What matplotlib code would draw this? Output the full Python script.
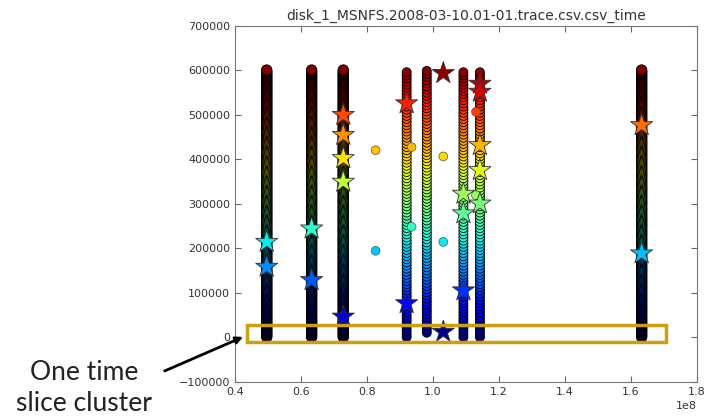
# import packages
import numpy as np
import matplotlib.pyplot as plt
from matplotlib.patches import Rectangle

# Data (x in units of 1e8, y in request units)
# vertical columns of points: x position, lowest y, highest y, spacing of points
col_x = [0.496, 0.632, 0.728, 0.920, 0.981, 1.092, 1.142, 1.632]
col_lo = [0, 0, 0, 0, 10000, 0, 0, 0]
col_hi = [600000, 600000, 600000, 600000, 600000, 600000, 600000, 600000]
col_step = [2500, 2500, 2500, 7000, 7000, 7000, 7000, 2500]

# cluster centres (stars)
star_x = [0.496, 0.496,
          0.632, 0.632,
          0.728, 0.728, 0.728, 0.728, 0.728,
          0.920, 0.920,
          1.031, 1.031,
          1.092, 1.092, 1.092,
          1.142, 1.142, 1.142, 1.142, 1.142,
          1.632, 1.632]
star_y = [214000, 158000,
          244000, 128000,
          499000, 454000, 402000, 349000, 46000,
          525000, 76000,
          593000, 12000,
          322000, 278000, 105000,
          569000, 551000, 431000, 375000, 300000,
          476000, 188000]

# single loose points
pt_x = [0.826, 0.826, 1.031, 1.031, 0.935, 0.935, 1.130, 1.130]
pt_y = [420000, 194000, 406000, 214000, 427000, 248000, 506000, 319000]

title = 'disk_1_MSNFS.2008-03-10.01-01.trace.csv.csv_time'

# Visualization with matplotlib
fig = plt.figure(figsize=(7.17, 4.19), dpi=100)
ax = fig.add_axes([0.3278, 0.0890, 0.6444, 0.8501])

cmap = plt.get_cmap('jet')
vmin, vmax = 0, 600000

# columns of circles, coloured by y
for x, lo, hi, step in zip(col_x, col_lo, col_hi, col_step):
    ys = np.arange(lo, hi + 1, step)
    xs = np.full(len(ys), x * 1e8)
    dense = step < 3000
    ax.scatter(xs, ys, c=ys, cmap=cmap, vmin=vmin, vmax=vmax,
               s=55 if dense else 42, edgecolors='black',
               linewidths=0.7 if dense else 0.6, zorder=2)

# loose points
ax.scatter(np.array(pt_x) * 1e8, pt_y, c=pt_y, cmap=cmap, vmin=vmin, vmax=vmax,
           s=40, edgecolors='#555555', linewidths=0.5, zorder=3)

# stars
ax.scatter(np.array(star_x) * 1e8, star_y, c=star_y, cmap=cmap, vmin=vmin,
           vmax=vmax, marker='*', s=280, edgecolors='#333333', linewidths=0.6,
           zorder=4)

# Change axes
ax.set_xlim(0.4e8, 1.8e8)
ax.set_ylim(-100000, 700000)
ax.set_xticks(np.arange(0.4, 1.81, 0.2) * 1e8)
ax.set_yticks(np.arange(-100000, 700001, 100000))
ax.tick_params(direction='in', top=True, right=True, labelsize=8,
               colors='#666666', labelcolor='#333333', length=4)
ax.xaxis.get_offset_text().set_fontsize(8)
ax.xaxis.get_offset_text().set_color('#333333')
for s in ax.spines.values():
    s.set_color('#777777')

ax.set_title(title, fontsize=10, color='#333333', pad=4)

# golden box marking one time slice cluster
ax.add_patch(Rectangle((0.435e8, -10000), 1.27e8, 37000, fill=False,
                       edgecolor='#C9A010', linewidth=2.5, zorder=5))

# arrow and note
ax.annotate('', xy=(0.432e8, 3000), xycoords='data',
            xytext=(0.226, 0.112), textcoords='figure fraction',
            arrowprops=dict(arrowstyle='-|>', color='black', lw=2,
                            mutation_scale=10),
            annotation_clip=False)
fig.text(0.117, 0.074, 'One time\nslice cluster', ha='center', va='center',
         fontsize=19, family='Lato', color='#222222', linespacing=1.3)

plt.savefig('out.png', dpi=100)
